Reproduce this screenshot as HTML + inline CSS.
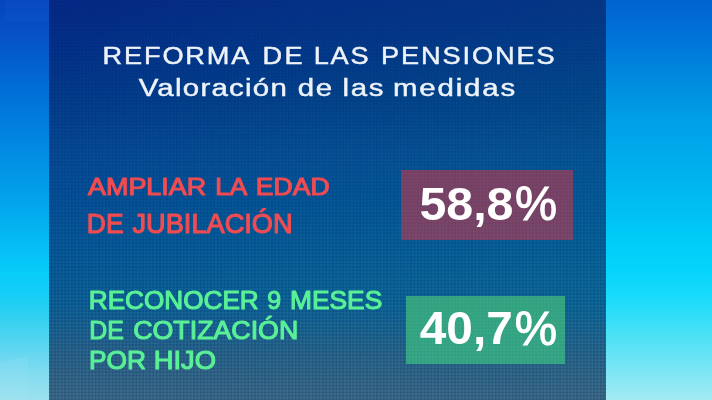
<!DOCTYPE html>
<html lang="es">
<head>
<meta charset="utf-8">
<title>Reforma de las pensiones</title>
<style>
html,body{margin:0;padding:0;}
body{width:712px;height:400px;overflow:hidden;position:relative;background:#0a60d0;font-family:"Liberation Sans",sans-serif;}
#bgl{position:absolute;left:0;top:0;width:49px;height:400px;
 background:linear-gradient(to bottom,#0544bc 0%,#0650c6 8%,#0070d8 23.5%,#0288e2 36%,#02a0ea 48.5%,#04b6f2 58%,#08ccfa 68.5%,#18cef6 74%,#30d0f0 79%,#70d8f0 90%,#98e0ee 100%);}
#bgl2{position:absolute;left:5px;top:0;width:44px;height:22px;background:rgba(20,95,215,0.2);}
#bgr{position:absolute;left:606px;top:0;width:106px;height:400px;
 background:linear-gradient(to bottom,#0062d0 0%,#0070d8 7.5%,#0080dc 15%,#0090e0 22.5%,#00a0e6 30%,#00aaec 37.5%,#00b4ee 45%,#00c0f2 52.5%,#00ccf8 60%,#04d4fc 67.5%,#1cdcfa 75%,#44e0f6 82.5%,#6ce4f4 90%,#a4eaf4 100%);}
#panel{position:absolute;left:49px;top:0;width:557px;height:400px;
 background:linear-gradient(to bottom,#052083 1.12%,#022884 13.62%,#023285 26.12%,#043e8e 38.62%,#01448f 51.12%,#024a8d 63.62%,#064f89 76.12%,#225178 88.62%,#315574 98.62%);}
#grid{position:absolute;left:49px;top:0;width:557px;height:400px;
 background-image:linear-gradient(to right,rgba(90,190,235,0.135) 1.3px,transparent 1.3px),linear-gradient(to bottom,rgba(90,190,235,0.135) 1.3px,transparent 1.3px);
 background-size:3.4px 3.4px;
 -webkit-mask-image:linear-gradient(to bottom,rgba(0,0,0,0.1) 0%,rgba(0,0,0,0.35) 50%,rgba(0,0,0,1) 100%);mask-image:linear-gradient(to bottom,rgba(0,0,0,0.1) 0%,rgba(0,0,0,0.35) 50%,rgba(0,0,0,1) 100%);}
#hg{position:absolute;left:49px;top:0;width:557px;height:400px;
 background:linear-gradient(to right,rgba(0,150,140,0.05) 0%,rgba(0,150,140,0.12) 46%,rgba(0,150,140,0.18) 100%);
 -webkit-mask-image:linear-gradient(to bottom,#000 70%,transparent 100%);mask-image:linear-gradient(to bottom,#000 70%,transparent 100%);}
#sh1{position:absolute;left:0;top:350px;width:49px;height:50px;background:rgba(255,255,255,0.07);clip-path:polygon(0 26%,57% 12%,57% 100%,0 100%);}
#sh2{position:absolute;left:28px;top:350px;width:21px;height:50px;background:rgba(255,255,255,0.04);clip-path:polygon(0 40%,100% 30%,100% 100%,0 100%);}
.box{position:absolute;}
#b1{left:401px;top:170px;width:172px;height:69.5px;background:#783d60;}
#b2{left:406px;top:295.5px;width:159px;height:68px;background:#31a178;}
svg{position:absolute;left:0;top:0;filter:blur(0.35px);}
text{font-family:"Liberation Sans",sans-serif;}
.w,.v{fill:#eef3fa;stroke:#eef3fa;stroke-width:0.45px;}
.r{fill:#f04c52;stroke:#f04c52;stroke-width:1.1px;stroke-linejoin:round;}
.g{fill:#5af096;stroke:#5af096;stroke-width:1.1px;stroke-linejoin:round;}
.n{fill:#ffffff;font-weight:bold;}
.p{fill:#ffffff;stroke:#ffffff;stroke-width:1px;}
</style>
</head>
<body>
<div id="bgl"></div>
<div id="bgl2"></div>
<div id="sh1"></div>
<div id="sh2"></div>
<div id="bgr"></div>
<div id="panel"></div>
<div id="hg"></div>
<div class="box" id="b1"></div>
<div class="box" id="b2"></div>
<div id="grid"></div>
<svg width="712" height="400" viewBox="0 0 712 400">
<text class="w" transform="translate(102.48,64.05) scale(1.18,1)" font-size="23" textLength="124.55" lengthAdjust="spacing">REFORMA</text>
<text class="w" transform="translate(262.60,64.05) scale(1.18,1)" font-size="23" textLength="33.90" lengthAdjust="spacing">DE</text>
<text class="w" transform="translate(313.83,64.05) scale(1.18,1)" font-size="23" textLength="46.38" lengthAdjust="spacing">LAS</text>
<text class="w" transform="translate(380.96,64.05) scale(1.18,1)" font-size="23" textLength="147.08" lengthAdjust="spacing">PENSIONES</text>
<text class="v" transform="translate(138.65,96.00) scale(1.28,1)" font-size="23" textLength="115.75" lengthAdjust="spacing">Valoración</text>
<text class="v" transform="translate(297.69,96.00) scale(1.28,1)" font-size="23" textLength="27.00" lengthAdjust="spacing">de</text>
<text class="v" transform="translate(342.50,96.00) scale(1.28,1)" font-size="23" textLength="31.96" lengthAdjust="spacing">las</text>
<text class="v" transform="translate(392.92,96.00) scale(1.28,1)" font-size="23" textLength="95.59" lengthAdjust="spacing">medidas</text>
<text class="r" x="88.00" y="194.95" font-size="24.1" textLength="118.20" lengthAdjust="spacingAndGlyphs">AMPLIAR</text>
<text class="r" x="215.15" y="194.95" font-size="24.1" textLength="32.14" lengthAdjust="spacingAndGlyphs">LA</text>
<text class="r" x="255.85" y="194.95" font-size="24.1" textLength="73.72" lengthAdjust="spacingAndGlyphs">EDAD</text>
<text class="r" x="86.80" y="232.95" font-size="27.1" textLength="36.73" lengthAdjust="spacingAndGlyphs">DE</text>
<text class="r" x="132.50" y="232.95" font-size="27.1" textLength="160.07" lengthAdjust="spacingAndGlyphs">JUBILACIÓN</text>
<text class="g" x="88.78" y="309.20" font-size="25.3" textLength="169.98" lengthAdjust="spacingAndGlyphs">RECONOCER</text>
<text class="g" x="267.34" y="309.20" font-size="25.3" textLength="13.81" lengthAdjust="spacingAndGlyphs">9</text>
<text class="g" x="290.07" y="309.20" font-size="25.3" textLength="92.15" lengthAdjust="spacingAndGlyphs">MESES</text>
<text class="g" x="89.20" y="338.80" font-size="25.3" textLength="34.53" lengthAdjust="spacingAndGlyphs">DE</text>
<text class="g" x="133.24" y="338.80" font-size="25.3" textLength="164.98" lengthAdjust="spacingAndGlyphs">COTIZACIÓN</text>
<text class="g" x="88.94" y="368.60" font-size="25.3" textLength="57.04" lengthAdjust="spacingAndGlyphs">POR</text>
<text class="g" x="153.73" y="368.60" font-size="25.3" textLength="62.24" lengthAdjust="spacingAndGlyphs">HIJO</text>
<text class="n" x="419.45" y="220.20" font-size="46.8" textLength="94.00" lengthAdjust="spacingAndGlyphs">58,8</text>
<text class="p" x="514.98" y="220.00" font-size="49" textLength="42.08" lengthAdjust="spacingAndGlyphs">%</text>
<text class="n" x="419.83" y="343.80" font-size="46" textLength="92.84" lengthAdjust="spacingAndGlyphs">40,7</text>
<text class="p" x="514.67" y="345.00" font-size="49" textLength="42.40" lengthAdjust="spacingAndGlyphs">%</text>
</svg>
</body>
</html>
